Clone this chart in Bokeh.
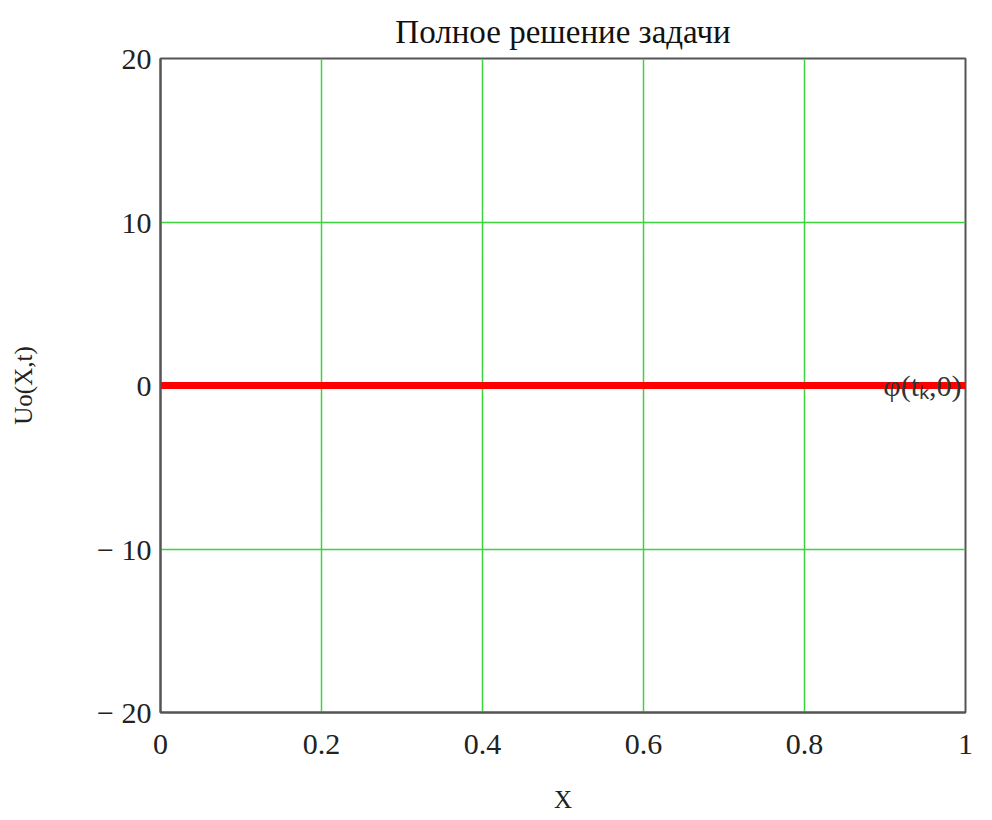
from bokeh.plotting import figure
from bokeh.models import Range1d, Label, FixedTicker
from bokeh.embed import file_html
from bokeh.resources import INLINE

# data
x_vals = [0.0, 0.2, 0.4, 0.6, 0.8, 1.0]
u_vals = [0.0, 0.0, 0.0, 0.0, 0.0, 0.0]
x_ticks = [0, 0.2, 0.4, 0.6, 0.8, 1]
x_tick_labels = ["0", "0.2", "0.4", "0.6", "0.8", "1"]
y_ticks = [-20, -10, 0, 10, 20]
y_tick_labels = ["\u2212 20", "\u2212 10", "0", "10", "20"]
title_text = "Полное решение задачи"
x_label = "X"
y_label = "Uo(X,t)"
trace_label = "\u03c6(t\u2096,0)"

FONT = "Liberation Serif"

p = figure(width=976, height=816, output_backend="svg", toolbar_location=None,
           x_range=Range1d(0, 1), y_range=Range1d(-20, 20),
           min_border_left=160, min_border_right=11, min_border_top=58, min_border_bottom=104)

p.title.text = title_text
p.title.align = "center"
p.title.text_font = FONT
p.title.text_font_size = "33px"
p.title.text_font_style = "normal"
p.title.text_color = "#111111"
p.title.standoff = 18

p.outline_line_color = "#555555"
p.outline_line_width = 2
p.background_fill_color = "white"
p.border_fill_color = "white"

for ax in (p.xaxis[0], p.yaxis[0]):
    ax.major_tick_line_color = None
    ax.minor_tick_line_color = None
    ax.axis_line_color = "#555555"
    ax.axis_line_width = 2
    ax.major_label_text_font = FONT
    ax.major_label_text_font_size = "30px"
    ax.major_label_text_color = "#222222"
    ax.axis_label_text_font = FONT
    ax.axis_label_text_font_size = "25px"
    ax.axis_label_text_font_style = "normal"
    ax.axis_label_text_color = "#222222"

p.xaxis.ticker = FixedTicker(ticks=x_ticks)
p.xaxis.major_label_overrides = {t: l for t, l in zip(x_ticks, x_tick_labels)}
p.yaxis.ticker = FixedTicker(ticks=y_ticks)
p.yaxis.major_label_overrides = {t: l for t, l in zip(y_ticks, y_tick_labels)}
p.xaxis.major_label_standoff = 16
p.yaxis.major_label_standoff = 3
p.xaxis.axis_label = x_label
p.yaxis.axis_label = y_label
p.xaxis.axis_label_standoff = 29
p.yaxis.axis_label_standoff = 57

p.xgrid.grid_line_color = "#3cd43c"
p.ygrid.grid_line_color = "#3cd43c"
p.xgrid.grid_line_width = 1.5
p.ygrid.grid_line_width = 1.5

p.line(x_vals, u_vals, line_color="#ff0000", line_width=7)

p.add_layout(Label(x=x_vals[-1], y=u_vals[-1], text=trace_label, text_font=FONT,
                   text_font_size="30px", text_align="right", text_baseline="middle",
                   text_color="#333333", x_offset=-4))

open("out.html", "w").write(file_html(p, INLINE))
